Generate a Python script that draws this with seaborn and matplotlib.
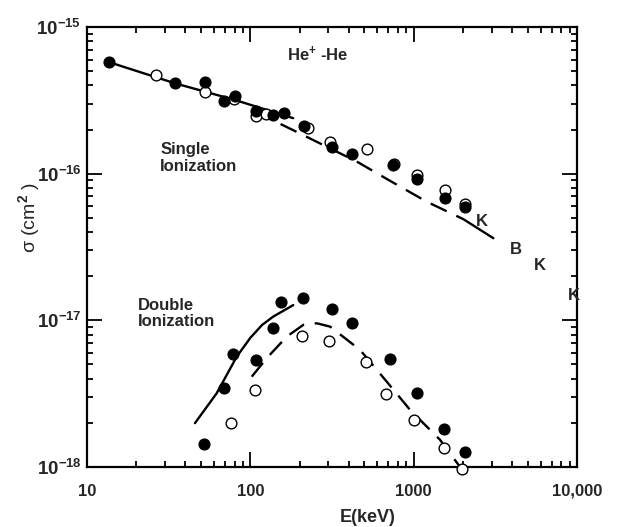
import numpy as np
import matplotlib
matplotlib.use("Agg")
import matplotlib.pyplot as plt
import seaborn as sns
from matplotlib.ticker import LogLocator, NullFormatter

# ---- data (E in keV, sigma in cm^2) ----
# single ionization
single_filled_E = [13.7, 34.6, 52.9, 69.3, 80.5, 108, 138, 161, 213, 315, 421, 751, 1045, 1556, 2065]
single_filled_sig = [5.75e-16, 4.17e-16, 4.2e-16, 3.13e-16, 3.39e-16, 2.67e-16, 2.51e-16, 2.58e-16,
                     2.12e-16, 1.53e-16, 1.36e-16, 1.15e-16, 9.2e-17, 6.8e-17, 5.9e-17]
single_open_E = [26.4, 52.9, 79, 108, 125, 226, 308, 515, 760, 1045, 1556, 2065]
single_open_sig = [4.71e-16, 3.59e-16, 3.21e-16, 2.47e-16, 2.55e-16, 2.04e-16, 1.64e-16, 1.47e-16,
                   1.17e-16, 9.8e-17, 7.74e-17, 6.2e-17]
single_solid_E = [13.7, 34.6, 80.5, 183]
single_solid_sig = [5.75e-16, 4.13e-16, 3.18e-16, 2.39e-16]
single_dash_E = [107, 201, 448, 685, 1202, 2018]
single_dash_sig = [2.65e-16, 1.88e-16, 1.21e-16, 9.2e-17, 6.44e-17, 4.89e-17]
single_k_E = [2018, 3076]
single_k_sig = [4.89e-17, 3.63e-17]

# double ionization
double_filled_E = [52, 69.4, 78, 108, 138, 154, 211, 315, 417, 716, 1045, 1541, 2065]
double_filled_sig = [1.43e-18, 3.44e-18, 5.88e-18, 5.37e-18, 8.87e-18, 1.34e-17, 1.41e-17, 1.19e-17,
                     9.65e-18, 5.45e-18, 3.19e-18, 1.81e-18, 1.26e-18]
double_open_E = [75.7, 107, 206, 305, 508, 678, 1005, 1541, 1987]
double_open_sig = [1.99e-18, 3.36e-18, 7.87e-18, 7.24e-18, 5.18e-18, 3.13e-18, 2.1e-18, 1.34e-18, 0.97e-18]
double_solid_E = [45.8, 62.2, 82.6, 100, 118, 138, 183]
double_solid_sig = [1.99e-18, 3.18e-18, 5.66e-18, 7.6e-18, 9.3e-18, 1.06e-17, 1.27e-17]
double_dash_E = [102, 126, 167, 211, 255, 308, 470, 684, 951, 1452, 2018]
double_dash_sig = [4.13e-18, 5.52e-18, 7.74e-18, 9.31e-18, 9.55e-18, 9.06e-18, 6.28e-18, 3.82e-18,
                   2.45e-18, 1.53e-18, 0.93e-18]

# theory labels at high energy
theory_labels = ["K", "B", "K", "K"]
theory_E = [2605, 4240, 5940, 9590]
theory_sig = [4.71e-17, 3.05e-17, 2.36e-17, 1.47e-17]

x_ticks = [10, 100, 1000, 10000]
x_ticklabels = ["10", "100", "1000", "10,000"]
y_ticks = [1e-18, 1e-17, 1e-16, 1e-15]
y_ticklabels = [r"$\mathbf{10^{-18}}$", r"$\mathbf{10^{-17}}$", r"$\mathbf{10^{-16}}$", r"$\mathbf{10^{-15}}$"]

sns.set_style("ticks")
plt.rcParams['font.family'] = ['Liberation Sans', 'DejaVu Sans']
plt.rcParams['mathtext.fontset'] = 'custom'
plt.rcParams['mathtext.rm'] = 'Liberation Sans:bold'
plt.rcParams['mathtext.bf'] = 'Liberation Sans:bold'
plt.rcParams['mathtext.it'] = 'Liberation Sans:bold'

fig = plt.figure(figsize=(6.2, 5.27), dpi=100)
ax = fig.add_axes([87 / 620, 1 - 467 / 527, 490 / 620, 440 / 527])

dash = (0, (7.5, 4.5))
lw = 1.7
sns.lineplot(x=single_solid_E, y=single_solid_sig, ax=ax, color="black", lw=lw)
sns.lineplot(x=single_dash_E, y=single_dash_sig, ax=ax, color="black", lw=lw, linestyle=dash)
sns.lineplot(x=single_k_E, y=single_k_sig, ax=ax, color="black", lw=lw)
sns.lineplot(x=double_solid_E, y=double_solid_sig, ax=ax, color="black", lw=lw)
sns.lineplot(x=double_dash_E, y=double_dash_sig, ax=ax, color="black", lw=lw, linestyle=dash)

# open circles first, filled drawn over them
for xs, ys in [(single_open_E, single_open_sig), (double_open_E, double_open_sig)]:
    sns.scatterplot(x=xs, y=ys, ax=ax, color="white", edgecolor="black", linewidth=1.0,
                    s=60, zorder=3, clip_on=False)
for xs, ys in [(single_filled_E, single_filled_sig), (double_filled_E, double_filled_sig)]:
    sns.scatterplot(x=xs, y=ys, ax=ax, color="black", edgecolor="black", linewidth=1.0,
                    s=60, zorder=4, clip_on=False)

ax.set_xscale("log")
ax.set_yscale("log")
ax.set_xlim(10, 10000)
ax.set_ylim(1e-18, 1e-15)

ax.set_xticks(x_ticks)
ax.set_xticklabels(x_ticklabels, fontweight="bold", fontsize=12)
ax.set_yticks(y_ticks)
ax.set_yticklabels(y_ticklabels, fontsize=13.5)
ax.xaxis.set_minor_locator(LogLocator(base=10, subs=range(2, 10)))
ax.yaxis.set_minor_locator(LogLocator(base=10, subs=range(2, 10)))
ax.xaxis.set_minor_formatter(NullFormatter())
ax.yaxis.set_minor_formatter(NullFormatter())

ax.tick_params(which="both", direction="in", top=True, right=True, width=1.3, color="black")
ax.tick_params(which="major", length=11)
ax.tick_params(which="minor", length=4)
ax.tick_params(axis="x", which="major", pad=12)
ax.tick_params(axis="y", which="major", pad=4)
for sp in ax.spines.values():
    sp.set_linewidth(1.6)
    sp.set_color("black")

ax.set_xlabel("E(keV)", fontweight="bold", fontsize=13)
ax.xaxis.set_label_coords(0.573, -0.095)
ax.set_ylabel("σ (cm$^{2}$ )", fontsize=14)
ax.yaxis.set_label_coords(-0.092, 0.566)

for lab, e, s in zip(theory_labels, theory_E, theory_sig):
    ax.text(e, s, lab, fontsize=12, fontweight="bold", ha="center", va="center")

ax.text(260, 6.5e-16, "He$^{+}$ -He", fontsize=12, fontweight="bold", ha="center", va="center")
ax.text(28, 1.28e-16, "Single\nIonization", fontsize=12, fontweight="bold", ha="left", va="center",
        linespacing=1.1)
ax.text(20.5, 1.12e-17, "Double\nIonization", fontsize=12, fontweight="bold", ha="left", va="center",
        linespacing=1.1)

fig.savefig("out.png", dpi=100)
